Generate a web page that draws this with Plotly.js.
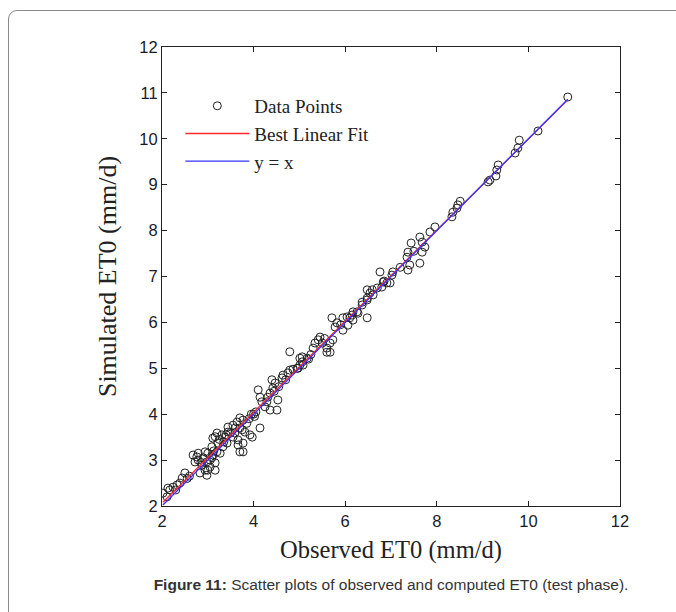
<!DOCTYPE html>
<html>
<head>
<meta charset="utf-8">
<script src="https://cdn.plot.ly/plotly-3.0.1.min.js"></script>
<style>
html,body{margin:0;padding:0;background:#fff;}
#wrap{position:relative;width:676px;height:612px;overflow:hidden;background:#fff;}
#frame{position:absolute;left:8px;top:10px;width:720px;height:700px;border:1px solid #8a8a8a;border-radius:9px;}
#chart{position:absolute;left:0;top:0;width:676px;height:612px;}
#cap{position:absolute;left:0;top:576px;width:676px;text-align:center;font-family:"Liberation Sans",Arial,sans-serif;font-size:15.5px;color:#333;padding-left:106px;box-sizing:border-box;}
</style>
</head>
<body>
<div id="wrap">
<div id="frame"></div>
<div id="chart"></div>
<div id="cap"><b>Figure 11:</b> Scatter plots of observed and computed ET0 (test phase).</div>
</div>
<script>
const observed = [2.02,2.11,2.13,2.17,2.24,2.3,2.33,2.39,2.44,2.5,2.55,2.6,2.68,2.72,2.76,2.79,2.79,2.83,2.85,2.87,2.9,2.94,2.94,2.98,2.98,3.0,3.0,3.05,3.05,3.09,3.09,3.11,3.11,3.13,3.16,3.16,3.16,3.2,3.2,3.22,3.25,3.27,3.31,3.33,3.35,3.38,3.4,3.42,3.44,3.44,3.5,3.55,3.55,3.59,3.6,3.64,3.66,3.66,3.7,3.7,3.7,3.75,3.77,3.77,3.77,3.81,3.85,3.9,3.92,3.95,3.97,4.0,4.02,4.05,4.1,4.14,4.14,4.18,4.25,4.29,4.31,4.36,4.36,4.4,4.42,4.45,4.47,4.51,4.53,4.55,4.62,4.64,4.7,4.75,4.79,4.79,4.86,4.95,4.97,5.01,5.01,5.06,5.06,5.08,5.17,5.2,5.25,5.3,5.34,5.41,5.45,5.5,5.55,5.6,5.6,5.67,5.67,5.71,5.73,5.78,5.82,5.9,5.95,5.95,6.04,6.06,6.1,6.15,6.17,6.17,6.26,6.28,6.37,6.37,6.48,6.48,6.48,6.48,6.54,6.59,6.61,6.7,6.76,6.8,6.83,6.85,6.91,6.98,7.02,7.04,7.2,7.35,7.37,7.37,7.41,7.44,7.5,7.63,7.63,7.68,7.68,7.74,7.85,7.96,8.33,8.35,8.44,8.46,8.51,9.12,9.16,9.29,9.31,9.34,9.71,9.77,9.8,10.21,10.86];
const simulated = [2.28,2.2,2.39,2.35,2.41,2.35,2.46,2.5,2.61,2.72,2.6,2.65,3.11,2.96,3.07,3.0,3.15,2.72,2.95,2.89,3.05,3.18,2.78,2.96,2.67,3.15,2.78,2.85,3.0,3.05,3.29,3.11,3.48,3.2,2.94,2.78,3.51,3.18,3.59,3.37,3.45,3.15,3.55,3.29,3.4,3.5,3.55,3.37,3.61,3.72,3.6,3.76,3.5,3.59,3.7,3.83,3.33,3.44,3.7,3.92,3.18,3.66,3.87,3.18,3.37,3.61,3.8,3.9,3.55,4.0,3.5,4.0,3.95,4.05,4.53,4.37,3.7,4.27,4.16,4.27,4.37,4.46,4.09,4.75,4.57,4.5,4.68,4.09,4.31,4.6,4.79,4.85,4.75,4.9,4.96,5.36,4.98,5.0,5.0,5.07,5.22,5.25,5.14,5.07,5.22,5.2,5.3,5.44,5.55,5.62,5.68,5.55,5.65,5.44,5.35,5.55,5.35,6.1,5.62,5.9,5.99,5.95,5.83,6.1,6.12,5.94,6.1,6.16,6.05,6.23,6.23,6.2,6.38,6.44,6.49,6.53,6.1,6.71,6.64,6.71,6.6,6.75,7.1,6.77,6.88,6.9,6.86,6.86,7.03,7.1,7.2,7.42,7.53,7.14,7.25,7.73,7.55,7.86,7.29,7.75,7.53,7.64,7.97,8.08,8.3,8.4,8.49,8.56,8.64,9.06,9.1,9.19,9.32,9.43,9.69,9.8,9.97,10.17,10.91];

const xTicks = [2,4,6,8,10,12];
const yTicks = [2,3,4,5,6,7,8,9,10,11,12];

// least squares fit computed from the data
const n = observed.length;
const mx = observed.reduce((a,b)=>a+b,0)/n;
const my = simulated.reduce((a,b)=>a+b,0)/n;
let sxy=0, sxx=0;
for(let i=0;i<n;i++){sxy+=(observed[i]-mx)*(simulated[i]-my);sxx+=(observed[i]-mx)**2;}
const slope = sxy/sxx, intercept = my - slope*mx;
const xmin = Math.min(...observed), xmax = Math.max(...observed);
const fitX = [xmin, xmax];
const fitY = fitX.map(v=>intercept+slope*v);

const serif = '"Liberation Serif","Times New Roman",serif';
const sans = '"Liberation Sans",Arial,sans-serif';

const traces = [
  {x:observed, y:simulated, type:'scatter', mode:'markers', name:'Data Points',
   marker:{symbol:'circle-open', size:8, color:'#222', line:{width:1}}},
  {x:fitX, y:fitY, type:'scatter', mode:'lines', name:'Best Linear Fit',
   line:{color:'#ff2a2a', width:1.3}},
  {x:fitX, y:fitX, type:'scatter', mode:'lines', name:'y = x',
   line:{color:'#3535ff', width:1.3}}
];

const axisCommon = {
  showline:true, linecolor:'#222', linewidth:1, mirror:'ticks',
  ticks:'inside', ticklen:5, tickcolor:'#222', showgrid:false, zeroline:false,
  tickfont:{family:sans, size:16.5, color:'#1a1a2a'}
};

const layout = {
  width:676, height:612,
  paper_bgcolor:'rgba(0,0,0,0)', plot_bgcolor:'#fff',
  margin:{l:162, r:56, t:47, b:106},
  showlegend:true,
  legend:{x:0.04, y:0.913, xanchor:'left', yanchor:'top', bgcolor:'rgba(0,0,0,0)',
          font:{family:serif, size:19, color:'#222'}, itemwidth:64, tracegroupgap:0},
  xaxis:Object.assign({}, axisCommon, {range:[2,12], tickvals:xTicks,
    title:{text:'Observed ET0 (mm/d)', font:{family:serif, size:24.5, color:'#222'}, standoff:12}}),
  yaxis:Object.assign({}, axisCommon, {range:[2,12], tickvals:yTicks,
    title:{text:'Simulated ET0 (mm/d)', font:{family:serif, size:26, color:'#222'}, standoff:15}})
};

Plotly.newPlot('chart', traces, layout, {displayModeBar:false, staticPlot:true});
</script>
</body>
</html>
